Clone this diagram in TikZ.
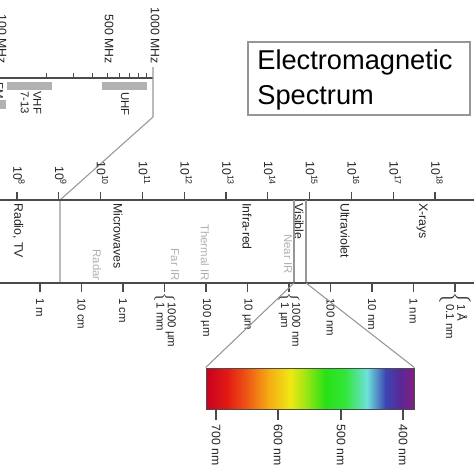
\documentclass[tikz,border=0pt]{standalone}
\usepackage{fontspec}
\setmainfont{Liberation Sans}
\usetikzlibrary{positioning,calc}
\definecolor{axisGray}{RGB}{75,75,75}
\definecolor{lineGray}{RGB}{150,150,150}
\definecolor{faintGray}{RGB}{175,175,175}
\definecolor{barGray}{RGB}{178,178,178}
\definecolor{inkText}{RGB}{35,35,35}
\definecolor{spec0}{RGB}{200,0,30}
\definecolor{spec1}{RGB}{228,28,20}
\definecolor{spec2}{RGB}{240,100,20}
\definecolor{spec3}{RGB}{245,170,20}
\definecolor{spec4}{RGB}{240,232,20}
\definecolor{spec5}{RGB}{160,230,20}
\definecolor{spec6}{RGB}{40,225,20}
\definecolor{spec7}{RGB}{50,230,60}
\definecolor{spec8}{RGB}{110,225,220}
\definecolor{spec9}{RGB}{60,70,180}
\definecolor{spec10}{RGB}{90,40,150}
\definecolor{spec11}{RGB}{130,30,130}

\begin{document}
\begin{tikzpicture}[x=0.02cm,y=-0.02cm,
  freq/.style={rotate=-90,anchor=east,inner sep=0pt,font=\fontsize{7}{8}\selectfont,text=inkText},
  band/.style={rotate=-90,anchor=west,inner sep=0pt,font=\fontsize{7}{8}\selectfont,text=inkText},
  faint/.style={rotate=-90,anchor=east,inner sep=0pt,font=\fontsize{6.5}{7.5}\selectfont,text=faintGray},
  wave/.style={rotate=-90,anchor=west,inner sep=0pt,font=\fontsize{6.5}{7}\selectfont,text=inkText},
  axis/.style={axisGray,line width=0.75pt},
  zoomline/.style={lineGray,line width=0.6pt}]
  \useasboundingbox (0,0) rectangle (474,474);
  % title
  \draw[lineGray,line width=0.6pt] (248,42) rectangle (470,115);
  \node[anchor=base west,inner sep=0pt,font=\fontsize{15.5}{18}\selectfont] (title1) at (257,69) {Electromagnetic};
  \node[anchor=base west,inner sep=0pt,font=\fontsize{15.5}{18}\selectfont] (title2) at (257,104) {Spectrum};
  % inset: TV band scale
  \draw[axis,line width=0.6pt] (-5,78) -- (153,78);
  \foreach \k in {2,...,9}
    \draw[axisGray,line width=0.5pt] ({153*log10(\k)},78) -- ++(0,-5);
  \node[freq] (mhz100) at (2,64) {100 MHz};
  \node[freq] (mhz500) at (109,64) {500 MHz};
  \node[freq] (mhz1000) at (155,64) {1000 MHz};
  \fill[barGray] (7,82) rectangle (52,90);
  \fill[barGray] (102,82) rectangle (147,90);
  \fill[barGray] (-6,100) rectangle (6,109);
  \node[band,font=\fontsize{6.5}{7}\selectfont,align=left] (vhf) at (31,91) {VHF\\7-13};
  \node[band,font=\fontsize{6.5}{7}\selectfont] (uhf) at (125,92) {UHF};
  \node[band,font=\fontsize{6.5}{7}\selectfont] (fm) at (-1,82) {FM};
  \coordinate (insetTop) at (153,67);
  \coordinate (insetBR) at (153,117);
  \coordinate (radioTop) at (60,200);
  \coordinate (radioBot) at (60,283);
  \draw[zoomline] (insetTop) -- (insetBR) -- (radioTop) -- (radioBot);
  % frequency axis
  \draw[axis] (0,200) -- (474,200);
  \foreach \n in {8,...,18} {
    \draw[axis] ({17+(\n-8)*41.8},200) -- ++(0,-8);
    \node[freq] (f\n) at ({19+(\n-8)*41.8},186) {10\textsuperscript{\n}};
  }
  % bands
  \node[band] (radio) at (18,203) {Radio, TV};
  \node[band] (micro) at (118,203) {Microwaves};
  \node[band] (infra) at (247,203) {Infra-red};
  \node[band] (visible) at (299,203) {Visible};
  \node[band] (ultra) at (345,203) {Ultraviolet};
  \node[band] (xray) at (422,203) {X-rays};
  \node[faint] (radar) at (97,281) {Radar};
  \node[faint] (farir) at (175,281) {Far IR};
  \node[faint] (thermir) at (205,281) {Thermal IR};
  \node[faint] (nearir) at (288,274) {Near IR};
  \coordinate (visTL) at (294,200);
  \coordinate (visTR) at (306,200);
  \coordinate (visL) at (294,283);
  \coordinate (visR) at (306,283);
  \draw[zoomline] (visTL) -- (visL);
  \draw[zoomline] (visTR) -- (visR);
  % wavelength axis
  \draw[axis] (0,283) -- (474,283);
  \foreach \i in {0,...,10}
    \draw[axis] ({40+\i*41.5},283) -- ++(0,9);
  \foreach \i/\w in {0/1 m,1/10 cm,2/1 cm,4/100 µm,5/10 µm,7/100 nm,8/10 nm,9/1 nm}
    \node[wave] (w\i) at ({40+\i*41.5},298) {\w};
  \renewcommand{\arraystretch}{0.9}
  \node[wave] (w3) at ({40+3*41.5},292) {$\left\{\begin{tabular}{@{}l@{}}1000 µm\\1 mm\end{tabular}\right.$};
  \node[wave] (w6) at ({40+6*41.5},292) {$\left\{\begin{tabular}{@{}l@{}}1000 nm\\1 µm\end{tabular}\right.$};
  \node[wave] (w10) at ({40+10*41.5},292) {$\left\{\begin{tabular}{@{}l@{}}1 Å\\0.1 nm\end{tabular}\right.$};
  % visible spectrum
  \foreach \xa/\xb/\ca/\cb in {206/228/spec0/spec1,228/250/spec1/spec2,250/268/spec2/spec3,
      268/290/spec3/spec4,290/305/spec4/spec5,305/325/spec5/spec6,325/345/spec6/spec7,
      345/367/spec7/spec8,367/385/spec8/spec9,385/400/spec9/spec10,400/414/spec10/spec11}
    \shade[left color=\ca,right color=\cb] (\xa,368) rectangle ({\xb+0.6},409);
  \node[draw=axisGray,line width=0.5pt,minimum width=4.16cm,minimum height=0.82cm,inner sep=0pt] (specbox) at (310,388.5) {};
  \draw[zoomline] (visL) -- (specbox.north west);
  \draw[zoomline] (visR) -- (specbox.north east);
  \foreach \x/\l in {216/700,278/600,341/500,403/400} {
    \draw[axis] (\x,409) -- ++(0,11);
    \node[wave,font=\fontsize{7}{8}\selectfont] (nm\l) at (\x,424) {\l\ nm};
  }
\end{tikzpicture}
\end{document}
